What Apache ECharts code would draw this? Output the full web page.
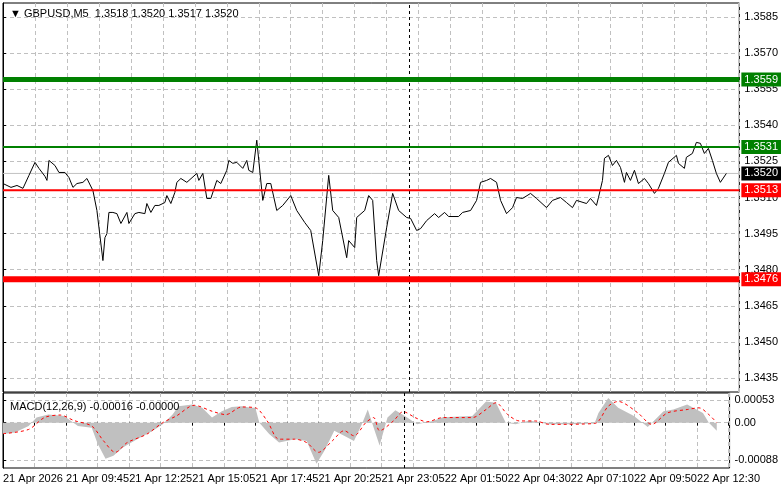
<!DOCTYPE html>
<html>
<head>
<meta charset="utf-8">
<script src="https://cdn.jsdelivr.net/npm/echarts@6/dist/echarts.min.js"></script>
<style>
  html, body { margin: 0; padding: 0; background: #fff; }
  #main { width: 781px; height: 489px; }
</style>
</head>
<body>
<div id="main"></div>
<script>
// M5 bars, x = bar number from 21 Apr 07:05
const priceBars = [0,4,7,8,10,13,16,18,21,22,23,26,28,31,33,35,37,40,42,43,45,47,50,51,52,53,55,57,59,62,63,66,68,71,72,74,76,78,81,82,84,86,87,89,92,97,98,100,102,104,107,109,112,113,115,117,120,122,123,125,127,128,130,132,134,137,140,144,147,151,154,158,160,163,165,168,172,173,176,177,181,183,185,187,188,189,192,195,198,202,204,207,209,212,216,218,221,223,228,230,234,237,239,242,244,247,249,252,255,257,260,264,267,272,275,279,282,285,287,292,294,297,298,300,301,303,305,307,309,311,312,314,316,318,321,323,326,328,331,333,337,338,341,342,345,347,349,351,353,355,357,359,360,362];
const priceValues = [1.35158,1.35142,1.35150,1.35158,1.35138,1.35192,1.35246,1.35221,1.35188,1.35171,1.35254,1.35233,1.35204,1.35204,1.35183,1.35142,1.35158,1.35163,1.35179,1.35183,1.35129,1.35046,1.34838,1.34933,1.34950,1.35038,1.35038,1.35033,1.34992,1.35038,1.34992,1.35033,1.35038,1.35033,1.35075,1.35038,1.35067,1.35067,1.35079,1.35108,1.35075,1.35121,1.35163,1.35179,1.35163,1.35200,1.35171,1.35200,1.35096,1.35096,1.35171,1.35158,1.35213,1.35254,1.35242,1.35246,1.35221,1.35254,1.35213,1.35204,1.35338,1.35254,1.35088,1.35158,1.35158,1.35046,1.35067,1.35108,1.35046,1.34996,1.34963,1.34775,1.34921,1.35192,1.35046,1.35017,1.34850,1.34921,1.34892,1.35017,1.35046,1.35108,1.35088,1.34838,1.34775,1.34783,1.34975,1.35117,1.35046,1.35017,1.35013,1.34963,1.34971,1.35004,1.35033,1.35017,1.35038,1.35021,1.35021,1.35038,1.35046,1.35088,1.35163,1.35171,1.35179,1.35163,1.35088,1.35033,1.35058,1.35100,1.35096,1.35117,1.35096,1.35058,1.35088,1.35100,1.35079,1.35058,1.35088,1.35075,1.35096,1.35067,1.35100,1.35171,1.35263,1.35275,1.35233,1.35254,1.35225,1.35163,1.35204,1.35171,1.35213,1.35158,1.35179,1.35158,1.35117,1.35138,1.35200,1.35246,1.35275,1.35242,1.35221,1.35267,1.35283,1.35329,1.35325,1.35283,1.35304,1.35254,1.35200,1.35163,1.35158,1.35200];

const histBars = [0,6,13,17,23,31,38,45,48,52,56,61,68,76,81,86,89,96,101,106,111,116,121,126,128,130,135,140,148,154,159,163,168,173,178,182,185,188,191,195,199,205,210,218,223,238,245,250,255,260,267,277,287,300,302,307,312,320,327,335,340,347,355,358,362];
const histValues = [-0.00027,-0.00023,-0.00008,0.00012,0.00019,0.00016,-0.00008,-0.00012,-0.0005,-0.00085,-0.00078,-0.00058,-0.00039,-0.00019,-0.00004,0.00019,0.00039,0.00043,0.00035,0.00012,0.00027,0.00037,0.00039,0.00035,0.00035,0,-0.00027,-0.00047,-0.00039,-0.00043,-0.00097,-0.00066,-0.00019,-0.00031,-0.00043,-0.00004,0.00031,-0.00012,-0.00054,0.00012,0.00029,0.00012,-0.00004,0.00004,0.00013,0.00016,0.0005,0.00047,0,-0.00004,0.00005,-0.00004,-0.00004,-0.00002,0.00023,0.00058,0.00035,0.00016,-0.0001,0.00027,0.00031,0.00043,0.00023,0,-0.00019];

const signalBars = [0,13,21,29,36,45,51,57,63,73,81,88,97,106,113,121,128,134,140,148,154,160,167,173,178,184,188,191,198,203,209,215,223,238,245,250,256,262,270,277,300,307,312,322,329,337,347,353,358,362];
const signalValues = [-0.00026,-0.00016,0.00012,0.00018,0.00005,-0.00008,-0.00043,-0.0007,-0.00047,-0.00027,0,0.00016,0.00041,0.00027,0.00019,0.00037,0.00035,0.00004,-0.00039,-0.00039,-0.00047,-0.0007,-0.00043,-0.00019,-0.00031,0,0.00012,-0.00019,0.00004,0.00026,0.00012,0.00002,0.00012,0.00012,0.00031,0.00047,0.00019,0.00004,0.00004,-0.00004,-0.00002,0.00039,0.0005,0.00023,-0.00004,0.00023,0.00031,0.00035,0.00019,0];

const timeLabels = ['21 Apr 2026','21 Apr 09:45','21 Apr 12:25','21 Apr 15:05','21 Apr 17:45','21 Apr 20:25','21 Apr 23:05','22 Apr 01:50','22 Apr 04:30','22 Apr 07:10','22 Apr 09:50','22 Apr 12:30'];
const priceTicks = [1.3435,1.3450,1.3465,1.3480,1.3495,1.3510,1.3525,1.3540,1.3555,1.3570,1.3585];
const macdTicks = [-0.00088,0,0.00053];
const levelValues = [1.3520, 1.3559, 1.3531, 1.3513, 1.3476];
const levelColors = ['#c0c0c0', '#008000', '#008000', '#ff0000', '#ff0000'];
const levelLabelBg = ['#000', '#008000', '#008000', '#ff0000', '#ff0000'];
const levelWidths = [1, 5, 2, 2, 6];
const cursorBar = 203.5;
const X_MAX = 368.5;

const FONT = 'Liberation Sans';
const chart = echarts.init(document.getElementById('main'));

const priceData = priceBars.map((b, i) => [b, priceValues[i]]);
const histData = histBars.map((b, i) => [b, histValues[i]]);
const signalData = signalBars.map((b, i) => [b, signalValues[i]]);

const dashGrid = { show: true, lineStyle: { color: '#c0c0c0', type: [4, 3], width: 1 } };

const levelSeries = levelValues.map((v, i) => ({
  type: 'line', xAxisIndex: 0, yAxisIndex: 0,
  data: [[0, v], [X_MAX, v]],
  showSymbol: false, silent: true, z: i === 0 ? 2 : 6,
  lineStyle: { color: levelColors[i], width: levelWidths[i] },
  endLabel: {
    show: true, distance: 2, formatter: () => v.toFixed(4),
    color: '#fff', backgroundColor: levelLabelBg[i], padding: [2, 3, 1, 3],
    fontFamily: FONT, fontSize: 11
  }
}));

chart.setOption({
  animation: false,
  textStyle: { fontFamily: FONT },
  title: [
    { text: '\u25BC GBPUSD,M5  1.3518 1.3520 1.3517 1.3520', left: 5, top: 3,
      textStyle: { fontSize: 11, fontWeight: 'normal', color: '#000', fontFamily: FONT } },
    { text: 'MACD(12,26,9) -0.00016 -0.00000', left: 5, top: 396,
      textStyle: { fontSize: 11, fontWeight: 'normal', color: '#000', fontFamily: FONT } }
  ],
  grid: [
    { left: 3, right: 41, top: 3, height: 389, show: true, borderColor: '#000', borderWidth: 1 },
    { left: 3, right: 41, top: 393, height: 75, show: true, borderColor: '#000', borderWidth: 1 }
  ],
  xAxis: [
    { type: 'value', gridIndex: 0, min: 0, max: X_MAX, interval: 16,
      axisLine: { show: false }, axisTick: { show: false }, axisLabel: { show: false },
      splitLine: dashGrid },
    { type: 'value', gridIndex: 1, min: 0, max: X_MAX, interval: 16,
      axisLine: { show: false },
      axisTick: { show: true, length: 3, lineStyle: { color: '#000' } },
      axisLabel: { show: true, align: 'left', margin: 5, fontSize: 11, color: '#000', fontFamily: FONT,
        showMaxLabel: false,
        formatter: v => (v % 32 === 0 && timeLabels[v / 32]) ? timeLabels[v / 32] : '' },
      splitLine: dashGrid }
  ],
  yAxis: [
    { type: 'value', gridIndex: 0, position: 'right', min: 1.34292, max: 1.35908,
      axisLine: { show: true, lineStyle: { color: '#000' } },
      axisTick: { show: true, length: 3, lineStyle: { color: '#000' }, customValues: priceTicks },
      axisLabel: { show: true, margin: 5, fontSize: 11, color: '#000', fontFamily: FONT,
        customValues: priceTicks, formatter: v => v.toFixed(4) },
      splitLine: dashGrid },
    { type: 'value', gridIndex: 1, position: 'right', min: -0.00107, max: 0.0007,
      axisLine: { show: true, lineStyle: { color: '#000' } },
      axisTick: { show: true, length: 3, lineStyle: { color: '#000' }, customValues: macdTicks },
      axisLabel: { show: true, margin: 5, fontSize: 11, color: '#000', fontFamily: FONT,
        customValues: macdTicks, formatter: v => v === 0 ? '0.00' : v.toFixed(5) },
      splitLine: { show: true, lineStyle: { color: '#c0c0c0', type: [4, 3] } } }
  ],
  series: [
    {
      type: 'line', xAxisIndex: 0, yAxisIndex: 0, data: priceData,
      showSymbol: false, lineStyle: { color: '#000', width: 1 }, z: 5,
      markLine: {
        symbol: 'none', silent: true, animation: false,
        data: [{ xAxis: cursorBar, lineStyle: { color: '#000', width: 1, type: [3, 3] }, label: { show: false } }]
      }
    }
  ].concat(levelSeries).concat([
    {
      type: 'line', xAxisIndex: 1, yAxisIndex: 1, data: histData,
      showSymbol: false, lineStyle: { width: 0 }, areaStyle: { color: '#c0c0c0', opacity: 1 }, z: 3,
      markLine: {
        symbol: 'none', silent: true, animation: false,
        data: [{ xAxis: cursorBar, lineStyle: { color: '#000', width: 1, type: [3, 3] }, label: { show: false } }]
      }
    },
    {
      type: 'line', xAxisIndex: 1, yAxisIndex: 1, data: signalData,
      showSymbol: false, smooth: 0.3, lineStyle: { color: '#ff0000', width: 1, type: [3, 3] }, z: 4
    }
  ])
});
</script>
</body>
</html>
